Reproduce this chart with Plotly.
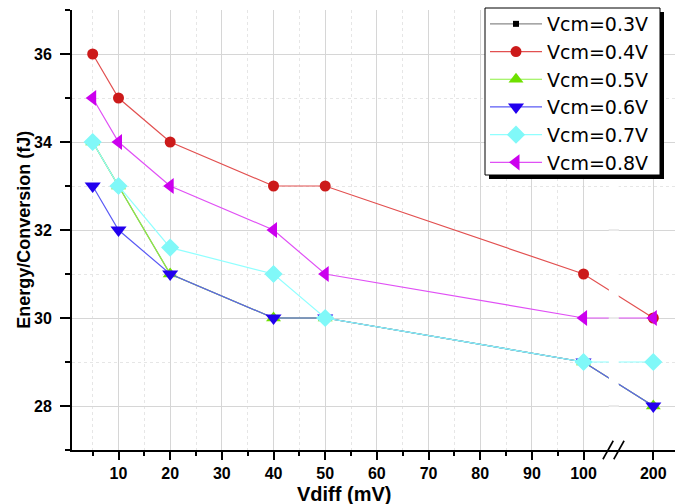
import plotly.graph_objects as go

# Differential input voltage (mV) and energy per conversion (fJ) per common-mode voltage
vdiff = [5, 10, 20, 40, 50, 100, 200]
vcm_03 = [34, 33, 31, 30, 30, 29, 28]
vcm_04 = [36, 35, 34, 33, 33, 31, 30]
vcm_05 = [34, 33, 31, 30, 30, 29, 28]
vcm_06 = [33, 32, 31, 30, 30, 29, 28]
vcm_07 = [34, 33, 31.6, 31, 30, 29, 29]
vcm_08 = [35, 34, 33, 32, 31, 30, 30]

x_tick_values = [10, 20, 30, 40, 50, 60, 70, 80, 90, 100, 200]
x_minor_values = [5, 15, 25, 35, 45, 55, 65, 75, 85, 95]

# Broken x axis: linear up to 100, then compressed segment for 200
X_BREAK = 100
FAR_SCALE = 0.135


def xpos(v):
    return v if v <= X_BREAK else X_BREAK + (v - X_BREAK) * FAR_SCALE


FONT = "Liberation Sans, Arial, sans-serif"
LEGEND_FONT = "DejaVu Sans, sans-serif"

series = [
    ("Vcm=0.3V", vcm_03, "square", "#000000", "#8a8a8a", 6),
    ("Vcm=0.4V", vcm_04, "circle", "#cc1a1a", "#e25050", 11),
    ("Vcm=0.5V", vcm_05, "triangle-up", "#6ee000", "#8cf040", 13),
    ("Vcm=0.6V", vcm_06, "triangle-down", "#2200ee", "#5a5af5", 14),
    ("Vcm=0.7V", vcm_07, "diamond", "#80f8f8", "#90ffff", 14),
    ("Vcm=0.8V", vcm_08, "triangle-left", "#cc00ee", "#e050f5", 14),
]

fig = go.Figure()
for name, vals, sym, mcol, lcol, msize in series:
    fig.add_trace(go.Scatter(
        x=[xpos(v) for v in vdiff], y=vals, name=name, mode="lines+markers",
        line=dict(color=lcol, width=1.2),
        marker=dict(symbol=sym, color=mcol, size=msize, line=dict(width=0)),
    ))

X0, X1 = 1.0, 117.7
Y0, Y1 = 27, 37
grid_major = "#d6d6d6"
grid_minor = "#e6e6e6"

# plot area in pixels, used to place the legend frame
PL, PW, PT, PH = 72, 603, 10, 440


def px_x(p):
    return (p - PL) / PW


def px_y(p):
    return 1 - (p - PT) / PH


shapes = []
# white gap through the lines at the axis break
brk = X_BREAK + 5.85
shapes.append(dict(type="rect", xref="x", yref="paper", x0=brk - 0.95, x1=brk + 0.95,
                   y0=0.006, y1=1, fillcolor="white", line=dict(width=0), layer="above"))
for gy in [28, 30, 32, 34, 36]:
    shapes.append(dict(type="line", xref="x", yref="y", x0=brk - 1.0, x1=brk + 1.0,
                       y0=gy, y1=gy, line=dict(color=grid_major, width=1), layer="above"))
# the "//" break marks on the x axis
for off in (-1.1, 1.0):
    shapes.append(dict(type="line", xref="x", yref="paper",
                       x0=brk + off - 1.0, x1=brk + off + 1.0, y0=-0.021, y1=0.021,
                       line=dict(color="black", width=1.6), layer="above"))
# legend frame with drop shadow
LG_L, LG_R, LG_T, LG_B, SH = 485, 660, 8, 175, 4
shapes.append(dict(type="rect", xref="paper", yref="paper",
                   x0=px_x(LG_L + SH), x1=px_x(LG_R + SH), y0=px_y(LG_B + SH), y1=px_y(LG_T + SH),
                   fillcolor="black", line=dict(width=0), layer="above"))
shapes.append(dict(type="rect", xref="paper", yref="paper",
                   x0=px_x(LG_L), x1=px_x(LG_R), y0=px_y(LG_B), y1=px_y(LG_T),
                   fillcolor="white", line=dict(color="black", width=1), layer="above"))

fig.update_layout(
    width=685, height=504,
    margin=dict(l=PL, r=685 - PL - PW, t=PT, b=504 - PT - PH, autoexpand=False),
    paper_bgcolor="white", plot_bgcolor="white",
    font=dict(family=FONT, color="black"),
    showlegend=True,
    legend=dict(x=px_x(LG_L), xanchor="left", y=px_y(LG_T - 3), yanchor="top",
                bgcolor="rgba(0,0,0,0)", borderwidth=0,
                font=dict(family=LEGEND_FONT, size=19, color="black"),
                tracegroupgap=0, itemwidth=52),
    shapes=shapes,
    xaxis=dict(
        range=[X0, X1], tickmode="array",
        tickvals=[xpos(v) for v in x_tick_values], ticktext=[str(v) for v in x_tick_values],
        ticks="outside", ticklen=8, tickwidth=2, tickcolor="black",
        showline=True, linecolor="black", linewidth=2, zeroline=False,
        showgrid=True, gridcolor=grid_major, gridwidth=1,
        tickfont=dict(family=FONT, size=16, weight="bold"),
        minor=dict(tickmode="array", tickvals=x_minor_values, ticks="outside", ticklen=4,
                   tickwidth=2, tickcolor="black", showgrid=True, gridcolor=grid_minor,
                   griddash="dot", gridwidth=1),
    ),
    yaxis=dict(
        range=[Y0, Y1], tickmode="linear", tick0=28, dtick=2,
        ticks="outside", ticklen=10, tickwidth=2, tickcolor="black",
        showline=True, linecolor="black", linewidth=2, zeroline=False,
        showgrid=True, gridcolor=grid_major, gridwidth=1, ticklabelstandoff=5,
        tickfont=dict(family=FONT, size=16, weight="bold"),
        minor=dict(dtick=1, tick0=27, ticks="outside", ticklen=5, tickwidth=2, tickcolor="black",
                   showgrid=True, gridcolor=grid_minor, griddash="dot", gridwidth=1),
    ),
    annotations=[
        dict(text="Vdiff (mV)", xref="paper", yref="paper", x=0.451, y=-0.0995,
             xanchor="center", yanchor="middle", showarrow=False,
             font=dict(family=FONT, size=20, weight="bold")),
        dict(text="Energy/Conversion (fJ)", xref="paper", yref="paper", x=-0.08, y=0.5,
             xanchor="center", yanchor="middle", showarrow=False, textangle=-90,
             font=dict(family=FONT, size=18, weight="bold")),
    ],
)

fig.write_html("out.html")
